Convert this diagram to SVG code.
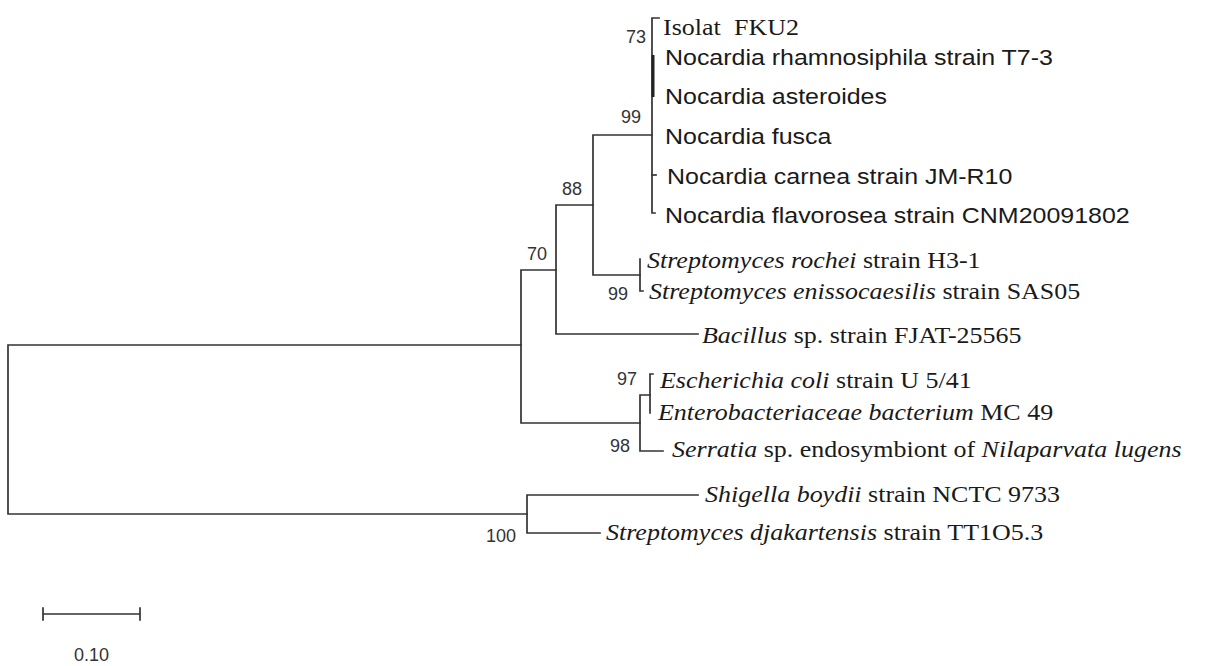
<svg xmlns="http://www.w3.org/2000/svg" width="1206" height="666" viewBox="0 0 1206 666">
  <style>
    .br { fill: none; stroke: #333; stroke-width: 1.7; stroke-linecap: square; }
    .thick { fill: none; stroke: #222; stroke-width: 3; }
    .sans { font-family: "Liberation Sans", Arial, sans-serif; font-size: 22px; fill: #1a1a1a; }
    .serif { font-family: "Liberation Serif", "Times New Roman", serif; font-size: 23px; fill: #1a1a1a; }
    .bs { font-family: "Liberation Sans", Arial, sans-serif; font-size: 18px; fill: #333; }
    .it { font-style: italic; }
  </style>
  <rect width="1206" height="666" fill="#fff"/>

  <!-- branches of the tree -->
  <g id="connectors">
    <!-- root -->
    <path class="br" d="M521,345 H8 V514 H527"/>
    <!-- ingroup node -->
    <path class="br" d="M556,270 H521 V423 H640"/>
    <!-- node 70 -->
    <path class="br" d="M593,205 H556 V334 H698"/>
    <!-- node 88 -->
    <path class="br" d="M652,135 H593 V275 H640"/>
    <!-- Nocardia clade (node 99) -->
    <path class="br" d="M659,18 H652 V213 H655"/>
    <path class="thick" d="M653,55 V97"/>
    <path class="br" d="M652,175 H656"/>
    <!-- Streptomyces pair -->
    <path class="br" d="M640,259 V291 H643"/>
    <!-- enterobacteria (node 98 / 97) -->
    <path class="br" d="M650,395 H640 V451 H663"/>
    <path class="br" d="M653,374 H650 V413"/>
    <!-- outgroup (node 100) -->
    <path class="br" d="M698,495 H527 V533 H600"/>
  </g>

  <!-- bootstrap values -->
  <g id="bootstrap" class="bs" text-anchor="end">
    <text x="646" y="43">73</text>
    <text x="641" y="123">99</text>
    <text x="582" y="195">88</text>
    <text x="547" y="260">70</text>
    <text x="628" y="300">99</text>
    <text x="637" y="385">97</text>
    <text x="630" y="452">98</text>
    <text x="516" y="542">100</text>
  </g>

  <!-- taxa (labels slightly widened horizontally) -->
  <g id="taxon-fku2"><text class="serif" transform="translate(663,35) scale(1.13,1)">Isolat <tspan dx="6">FKU2</tspan></text></g>
  <g id="taxon-rhamnosiphila"><text class="sans" transform="translate(665,65) scale(1.135,1)">Nocardia rhamnosiphila strain T7-3</text></g>
  <g id="taxon-asteroides"><text class="sans" transform="translate(665,104) scale(1.135,1)">Nocardia asteroides</text></g>
  <g id="taxon-fusca"><text class="sans" transform="translate(665,144) scale(1.135,1)">Nocardia fusca</text></g>
  <g id="taxon-carnea"><text class="sans" transform="translate(667,184) scale(1.135,1)">Nocardia carnea strain JM-R10</text></g>
  <g id="taxon-flavorosea"><text class="sans" transform="translate(665,223) scale(1.135,1)">Nocardia flavorosea strain CNM20091802</text></g>
  <g id="taxon-rochei"><text class="serif" transform="translate(647,268) scale(1.13,1)"><tspan class="it">Streptomyces rochei</tspan> strain H3-1</text></g>
  <g id="taxon-enissocaesilis"><text class="serif" transform="translate(649,299) scale(1.13,1)"><tspan class="it">Streptomyces enissocaesilis</tspan> strain SAS05</text></g>
  <g id="taxon-bacillus"><text class="serif" transform="translate(702,343) scale(1.13,1)"><tspan class="it">Bacillus</tspan> sp. strain FJAT-25565</text></g>
  <g id="taxon-ecoli"><text class="serif" transform="translate(660,388) scale(1.13,1)"><tspan class="it">Escherichia coli</tspan> strain U 5/41</text></g>
  <g id="taxon-enterobacteriaceae"><text class="serif" transform="translate(658,420) scale(1.13,1)"><tspan class="it">Enterobacteriaceae bacterium</tspan> MC 49</text></g>
  <g id="taxon-serratia"><text class="serif" transform="translate(672,457) scale(1.13,1)"><tspan class="it">Serratia</tspan> sp. endosymbiont of <tspan class="it">Nilaparvata lugens</tspan></text></g>
  <g id="taxon-shigella"><text class="serif" transform="translate(705,502) scale(1.13,1)"><tspan class="it">Shigella boydii</tspan> strain NCTC 9733</text></g>
  <g id="taxon-djakartensis"><text class="serif" transform="translate(606,540) scale(1.13,1)"><tspan class="it">Streptomyces djakartensis</tspan> strain TT1O5.3</text></g>

  <!-- scale bar -->
  <g id="scale-bar">
    <path class="br" d="M43,614 H140 M43,608 V620 M140,608 V620"/>
    <text class="bs" x="91.5" y="661" text-anchor="middle">0.10</text>
  </g>
</svg>
